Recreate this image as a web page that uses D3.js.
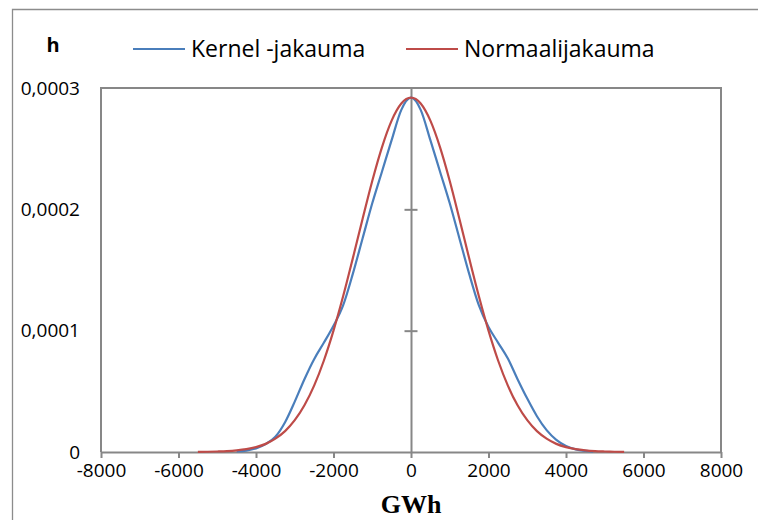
<!DOCTYPE html>
<html><head><meta charset="utf-8">
<script src="https://cdn.jsdelivr.net/npm/d3@7"></script>
<style>body{margin:0;background:#fff}svg{display:block}</style>
</head><body>
<svg id="c" width="758" height="520"></svg>
<script>
// ---- data ----
const seriesNames = ["Kernel -jakauma", "Normaalijakauma"];
const kernelX = [-4500,-4250,-4000,-3750,-3500,-3250,-3000,-2750,-2500,-2250,-2000,-1750,-1500,-1250,-1000,-750,-500,-250,0,
                 250,500,750,1000,1250,1500,1750,2000,2250,2500,2750,3000,3250,3500,3750,4000,4250,4500,4700];
const kernelY = [0.0000004,0.0000012,0.0000030,0.0000065,0.0000125,0.0000245,0.0000415,0.0000600,0.0000765,0.0000900,0.000104,0.000121,0.000147,0.000176,0.000205,0.000231,0.000257,0.000282,0.000292,
                 0.000282,0.000257,0.000231,0.000205,0.000176,0.000147,0.000121,0.000103,0.000090,0.000077,0.000060,0.000044,0.0000295,0.0000180,0.0000100,0.0000050,0.0000022,0.0000009,0.0000003];
const normalX = [-5500,-5250,-5000,-4750,-4500,-4250,-4000,-3750,-3500,-3250,-3000,-2750,-2500,-2250,-2000,-1750,-1500,-1250,-1000,-750,-500,-250,0,
                 250,500,750,1000,1250,1500,1750,2000,2250,2500,2750,3000,3250,3500,3750,4000,4250,4500,4750,5000,5250,5500];
const normalY = [0.0000001,0.0000002,0.0000004,0.0000007,0.0000013,0.0000023,0.0000040,0.0000067,0.0000110,0.0000172,0.0000262,0.0000385,0.0000547,0.0000752,0.0001000,0.0001285,0.0001598,0.0001921,0.0002234,0.0002511,0.0002731,0.0002872,0.000292,
                 0.0002872,0.0002731,0.0002511,0.0002234,0.0001921,0.0001598,0.0001285,0.0001000,0.0000752,0.0000547,0.0000385,0.0000262,0.0000172,0.0000110,0.0000067,0.0000040,0.0000023,0.0000013,0.0000007,0.0000004,0.0000002,0.0000001];
const xTicks = [-8000,-6000,-4000,-2000,0,2000,4000,6000,8000];
const yTicks = [0,0.0001,0.0002,0.0003];
const yTickLabels = ["0","0,0001","0,0002","0,0003"];
const yTitle = "h";
const xTitle = "GWh";
const colors = ["#4A7EBB", "#BE4B48"];

// ---- drawing ----
const svg = d3.select("#c");
const L = 101, R = 721, T = 88, B = 452;
const x = d3.scaleLinear().domain([-8000, 8000]).range([L, R]);
const y = d3.scaleLinear().domain([0, 0.0003]).range([B, T]);
const gray = "#878787";
const font = "'Open Sans', sans-serif";

// outer chart border
svg.append("path").attr("d", "M12.5,530 V9.5 H770")
  .attr("fill", "none").attr("stroke", "#8c8c8c").attr("stroke-width", 1.3);

// plot area border (left, top, right)
svg.append("path").attr("d", `M${L},${B} V${T} H${R} V${B}`)
  .attr("fill", "none").attr("stroke", gray).attr("stroke-width", 2);

// x axis at bottom
const xAxis = d3.axisBottom(x).tickValues(xTicks).tickSize(6).tickSizeOuter(0).tickFormat(d3.format("d"));
const gx = svg.append("g").attr("transform", `translate(0,${B})`).call(xAxis);
gx.select(".domain").attr("stroke", gray).attr("stroke-width", 2.2);
gx.selectAll(".tick line").attr("stroke", gray).attr("stroke-width", 2);
gx.selectAll(".tick text").attr("font-family", font).attr("font-size", 19).attr("fill", "#000")
  .attr("y", 12).attr("dy", "0.71em").text(d => d);

// y tick labels on left
svg.append("g").selectAll("text").data(yTicks).join("text")
  .attr("x", 80).attr("y", d => y(d)).attr("dy", "0.35em")
  .attr("text-anchor", "end").attr("font-family", font).attr("font-size", 19).attr("fill", "#000")
  .text((d, i) => yTickLabels[i]);

// y axis line at x = 0 with crossing ticks
const x0 = x(0);
const yAxis = d3.axisLeft(y).tickValues(yTicks.filter(d => d > 0 && d < 0.0003)).tickSize(0).tickFormat("");
const gy = svg.append("g").attr("transform", `translate(${x0},0)`).call(yAxis);
gy.select(".domain").attr("stroke", gray).attr("stroke-width", 2);
gy.selectAll(".tick").append("line").attr("x1", -6.5).attr("x2", 6.5)
  .attr("stroke", gray).attr("stroke-width", 2);

// curves
const line = d3.line().x(d => x(d[0])).y(d => y(d[1])).curve(d3.curveMonotoneX);
const kData = kernelX.map((v, i) => [v, kernelY[i]]);
const nData = normalX.map((v, i) => [v, normalY[i]]);
svg.append("path").datum(kData).attr("d", line).attr("fill", "none")
  .attr("stroke", colors[0]).attr("stroke-width", 2.2);
svg.append("path").datum(nData).attr("d", line).attr("fill", "none")
  .attr("stroke", colors[1]).attr("stroke-width", 2.2);

// legend
const legend = [{x1: 133, x2: 185, tx: 191}, {x1: 406, x2: 458, tx: 464}];
legend.forEach((l, i) => {
  svg.append("line").attr("x1", l.x1).attr("x2", l.x2).attr("y1", 49).attr("y2", 49)
    .attr("stroke", colors[i]).attr("stroke-width", 2);
  svg.append("text").attr("x", l.tx).attr("y", 57).attr("font-family", font)
    .attr("font-size", 23).attr("fill", "#000").text(seriesNames[i]);
});

// titles
svg.append("text").attr("x", 53).attr("y", 52).attr("text-anchor", "middle")
  .attr("font-family", font).attr("font-weight", "bold").attr("font-size", 20).text(yTitle);
svg.append("text").attr("x", x0).attr("y", 513).attr("text-anchor", "middle")
  .attr("font-family", "'Liberation Serif', serif").attr("font-weight", "bold").attr("font-size", 26).text(xTitle);
</script>
</body></html>
